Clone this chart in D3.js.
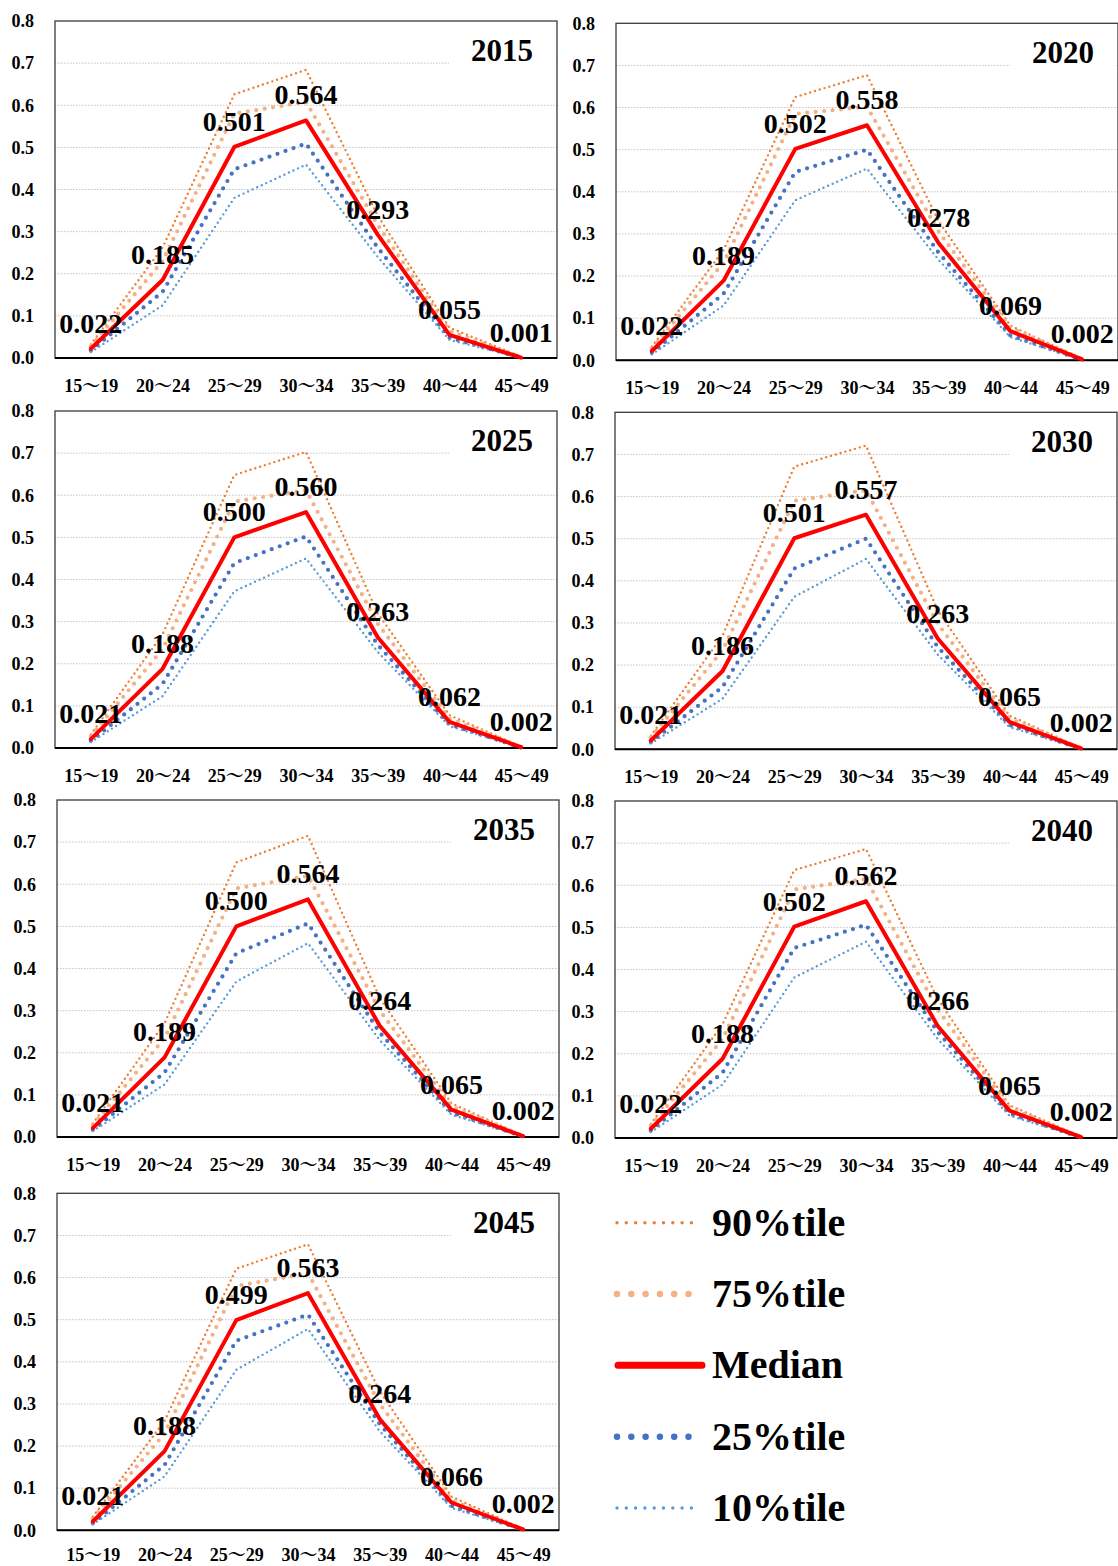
<!DOCTYPE html>
<html>
<head>
<meta charset="utf-8">
<script src="https://cdn.jsdelivr.net/npm/d3@7"></script>
<style>
  html, body { margin: 0; padding: 0; background: #ffffff; }
  svg { display: block; }
  text { font-family: "Liberation Serif", "Times New Roman", "Noto Serif CJK JP", "Noto Sans CJK JP", serif; font-weight: bold; fill: #000; }
</style>
</head>
<body>
<svg id="chart" width="1118" height="1566"></svg>
<script>
// ---------------- DATA ----------------
const years = ["2015", "2020", "2025", "2030", "2035", "2040", "2045"];
const ageGroups = ["15～19", "20～24", "25～29", "30～34", "35～39", "40～44", "45～49"];
const yTicks = [0, 0.1, 0.2, 0.3, 0.4, 0.5, 0.6, 0.7, 0.8];
const gridTicks = [0.1, 0.2, 0.3, 0.4, 0.5, 0.6, 0.7];

// one row per year, one value per age group
const p90 = [
  [0.032, 0.262, 0.626, 0.684, 0.338, 0.072, 0.003],
  [0.032, 0.262, 0.625, 0.677, 0.330, 0.082, 0.004],
  [0.032, 0.270, 0.648, 0.703, 0.320, 0.078, 0.003],
  [0.032, 0.270, 0.671, 0.721, 0.330, 0.080, 0.003],
  [0.032, 0.270, 0.652, 0.715, 0.330, 0.080, 0.003],
  [0.033, 0.270, 0.636, 0.686, 0.330, 0.078, 0.003],
  [0.032, 0.260, 0.621, 0.679, 0.330, 0.080, 0.003]
];
const p75 = [
  [0.028, 0.230, 0.580, 0.608, 0.316, 0.064, 0.002],
  [0.028, 0.232, 0.585, 0.602, 0.305, 0.077, 0.003],
  [0.028, 0.235, 0.585, 0.612, 0.295, 0.070, 0.002],
  [0.028, 0.235, 0.590, 0.615, 0.298, 0.073, 0.002],
  [0.028, 0.235, 0.590, 0.620, 0.300, 0.073, 0.002],
  [0.029, 0.235, 0.590, 0.615, 0.305, 0.072, 0.002],
  [0.028, 0.230, 0.580, 0.610, 0.300, 0.072, 0.002]
];
const median = [
  [0.022, 0.185, 0.501, 0.564, 0.293, 0.055, 0.001],
  [0.022, 0.189, 0.502, 0.558, 0.278, 0.069, 0.002],
  [0.021, 0.188, 0.500, 0.560, 0.263, 0.062, 0.002],
  [0.021, 0.186, 0.501, 0.557, 0.263, 0.065, 0.002],
  [0.021, 0.189, 0.500, 0.564, 0.264, 0.065, 0.002],
  [0.022, 0.188, 0.502, 0.562, 0.266, 0.065, 0.002],
  [0.021, 0.188, 0.499, 0.563, 0.264, 0.066, 0.002]
];
const p25 = [
  [0.018, 0.157, 0.448, 0.509, 0.262, 0.048, 0.001],
  [0.018, 0.158, 0.447, 0.500, 0.255, 0.059, 0.001],
  [0.017, 0.152, 0.439, 0.502, 0.245, 0.056, 0.001],
  [0.017, 0.148, 0.429, 0.500, 0.243, 0.058, 0.001],
  [0.017, 0.153, 0.436, 0.507, 0.248, 0.058, 0.001],
  [0.018, 0.155, 0.451, 0.506, 0.252, 0.058, 0.001],
  [0.017, 0.155, 0.450, 0.512, 0.252, 0.058, 0.001]
];
const p10 = [
  [0.014, 0.125, 0.380, 0.459, 0.240, 0.043, 0.001],
  [0.014, 0.130, 0.380, 0.455, 0.238, 0.055, 0.001],
  [0.014, 0.123, 0.372, 0.450, 0.228, 0.052, 0.001],
  [0.014, 0.120, 0.362, 0.452, 0.225, 0.053, 0.001],
  [0.014, 0.125, 0.369, 0.460, 0.230, 0.053, 0.001],
  [0.014, 0.127, 0.381, 0.466, 0.235, 0.053, 0.001],
  [0.014, 0.128, 0.381, 0.478, 0.235, 0.053, 0.001]
];
const legendLabels = ["90%tile", "75%tile", "Median", "25%tile", "10%tile"];

// ---------------- STYLE / LAYOUT ----------------
const seriesData = [p90, p75, median, p25, p10];
const seriesStyle = [
  { color: "#ED7D31", width: 2.4, dash: "0 5",   lw: 3.4, ldash: "0 9.3" },
  { color: "#F4B183", width: 4.2, dash: "0 8.5", lw: 6.5, ldash: "0 14.3" },
  { color: "#FF0000", width: 4,   dash: null,    lw: 7,   ldash: null },
  { color: "#4472C4", width: 4.2, dash: "0 8.5", lw: 6.5, ldash: "0 14.3" },
  { color: "#5B9BD5", width: 2.4, dash: "0 5",   lw: 3.4, ldash: "0 9.3" }
];
const drawOrder = [0, 1, 3, 4, 2];

const W = 502, H = 337;
const panelLeft = [55, 616, 55, 615, 57, 615, 57];
const panelTop  = [21, 23.3, 411, 412.3, 800, 801, 1193.3];

const svg = d3.select("#chart");
svg.append("rect").attr("width", 1118).attr("height", 1566).attr("fill", "#fff");

const x = d3.scalePoint().domain(ageGroups).range([0, W]).padding(0.5);
const y = d3.scaleLinear().domain([0, 0.8]).range([H, 0]);
const line = d3.line().x((d, i) => x(ageGroups[i])).y(d => y(d));

years.forEach((yr, pi) => {
  const g = svg.append("g").attr("transform", `translate(${panelLeft[pi]},${panelTop[pi]})`);

  // gridlines
  g.append("g").selectAll("line").data(gridTicks).join("line")
    .attr("x1", 0).attr("x2", W)
    .attr("y1", d => y(d)).attr("y2", d => y(d))
    .attr("stroke", "#c4c4c4").attr("stroke-width", 1).attr("stroke-dasharray", "1.5 1.5");

  // title backdrop
  g.append("rect")
    .attr("x", W - 108).attr("y", y(0.7) - 34)
    .attr("width", 106).attr("height", 42)
    .attr("fill", "#fff");

  // plot border
  g.append("rect").attr("x", 0).attr("y", 0).attr("width", W).attr("height", H)
    .attr("fill", "none").attr("stroke", "#3a3a3a").attr("stroke-width", 1.3);
  g.append("line").attr("x1", 0).attr("x2", W).attr("y1", H).attr("y2", H)
    .attr("stroke", "#000").attr("stroke-width", 2);

  // axes
  const ya = g.append("g").call(d3.axisLeft(y).tickValues(yTicks).tickSize(0).tickPadding(21).tickFormat(d3.format(".1f")));
  ya.select(".domain").remove();
  ya.selectAll("text").style("font-size", "18px").style("font-family", null).attr("fill", "#000");

  const xa = g.append("g").attr("transform", `translate(0,${H})`)
    .call(d3.axisBottom(x).tickSize(0).tickPadding(pi === 6 ? 18 : 21));
  xa.select(".domain").remove();
  xa.selectAll("text").style("font-size", "18px").style("font-family", null).attr("fill", "#000");

  // series
  drawOrder.forEach(si => {
    const st = seriesStyle[si];
    const p = g.append("path")
      .datum(seriesData[si][pi])
      .attr("d", line)
      .attr("fill", "none")
      .attr("stroke", st.color)
      .attr("stroke-width", st.width)
      .attr("stroke-linejoin", "round")
      .attr("stroke-linecap", "round");
    if (st.dash) p.attr("stroke-dasharray", st.dash);
  });

  // median labels
  g.append("g").selectAll("text").data(median[pi]).join("text")
    .attr("x", (d, i) => x(ageGroups[i]))
    .attr("y", d => y(d) - 16)
    .attr("text-anchor", "middle")
    .style("font-size", "28px")
    .text(d => d3.format(".3f")(d));

  // year title
  g.append("text")
    .attr("x", W - 24).attr("y", 40)
    .attr("text-anchor", "end")
    .style("font-size", "31px")
    .text(yr);
});

// legend
const legendY = d3.scalePoint().domain(legendLabels).range([1222.7, 1508]);
const lg = svg.append("g");
legendLabels.forEach((lab, i) => {
  const st = seriesStyle[i];
  const yy = legendY(lab);
  const isMedian = st.dash === null;
  const l = lg.append("line")
    .attr("x1", isMedian ? 618 : 617).attr("x2", isMedian ? 702 : 692)
    .attr("y1", yy).attr("y2", yy)
    .attr("stroke", st.color).attr("stroke-width", st.lw)
    .attr("stroke-linecap", "round");
  if (st.ldash) l.attr("stroke-dasharray", st.ldash);
  lg.append("text").attr("x", 712).attr("y", yy + 13)
    .style("font-size", "40px").text(lab);
});
</script>
</body>
</html>
